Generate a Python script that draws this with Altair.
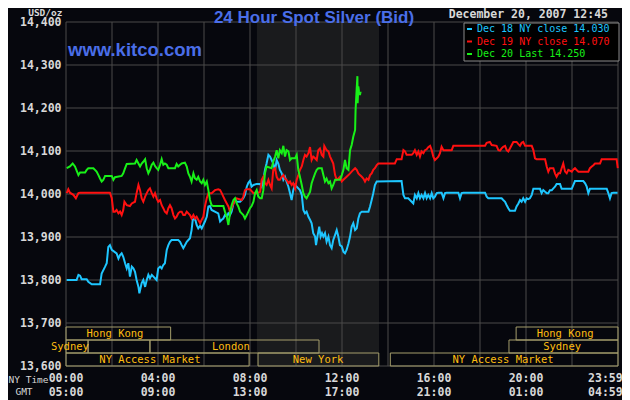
import altair as alt
import pandas as pd

# ---------------- data ----------------
# hours after 00:00 NY time, price (14,000 = $14.000)
dec18 = [(0.03,13800),(0.46,13800),(0.54,13812),(0.61,13810),(0.68,13802),(0.90,13802),(0.97,13796),(1.12,13790),(1.48,13790),(1.55,13815),(1.70,13831),(1.77,13839),(1.84,13877),(1.91,13881),(1.99,13870),(2.20,13862),(2.28,13850),(2.35,13858),(2.42,13862),(2.49,13854),(2.57,13839),(2.64,13827),(2.71,13839),(2.78,13808),(2.86,13831),(2.93,13827),(3.00,13819),(3.07,13800),(3.15,13784),(3.19,13769),(3.29,13793),(3.36,13800),(3.44,13784),(3.51,13800),(3.58,13812),(3.65,13804),(3.73,13812),(3.80,13808),(3.87,13804),(3.94,13800),(4.01,13827),(4.09,13831),(4.16,13827),(4.23,13835),(4.30,13839),(4.38,13870),(4.45,13881),(4.52,13889),(4.59,13893),(4.88,13893),(4.96,13889),(5.03,13881),(5.10,13874),(5.17,13881),(5.25,13889),(5.32,13893),(5.39,13897),(5.46,13916),(5.51,13940),(5.61,13943),(5.68,13928),(5.75,13920),(5.83,13926),(5.90,13920),(5.97,13928),(6.04,13936),(6.12,13947),(6.19,13971),(6.26,13972),(6.33,13963),(6.62,13955),(6.70,13936),(6.77,13940),(6.84,13943),(6.91,13951),(6.99,13947),(7.06,13955),(7.13,13951),(7.20,13959),(7.28,13978),(7.35,13986),(7.42,13982),(7.57,13982),(7.64,13986),(7.71,13990),(7.78,13998),(7.86,14017),(7.93,14026),(8.00,14031),(8.07,14017),(8.15,14021),(8.29,14023),(8.44,14023),
(8.51,14017),(8.58,14033),(8.65,14056),(8.72,14071),(8.80,14091),(8.87,14087),(8.94,14079),(9.01,14071),(9.09,14056),(9.16,14079),(9.23,14071),(9.30,14056),(9.38,14048),(9.45,14033),(9.52,14040),(9.59,14029),(9.67,14017),(9.74,14002),(9.81,13986),(9.88,14009),(9.96,14021),(10.03,14017),(10.10,14013),(10.17,14009),(10.25,13998),(10.32,13963),(10.39,13955),(10.46,13959),(10.54,13947),(10.61,13940),(10.68,13932),(10.75,13909),(10.83,13901),(10.87,13881),(10.93,13901),(11.01,13924),(11.07,13901),(11.13,13909),(11.19,13901),(11.26,13909),(11.33,13889),(11.41,13901),(11.48,13881),(11.55,13874),(11.62,13893),(11.70,13905),(11.77,13916),(11.84,13901),(11.91,13881),(11.99,13878),(12.06,13866),(12.13,13862),(12.20,13870),(12.28,13885),(12.35,13901),(12.42,13924),(12.49,13932),(12.57,13916),(12.64,13920),(12.71,13943),(12.78,13955),(12.86,13959),(13.15,13959),(13.22,13971),(13.29,13986),(13.36,14002),(13.43,14021),(13.51,14029),
(14.59,14030),(14.67,13998),(14.74,13990),(14.88,13990),(15.03,13982),(15.10,13978),(15.17,13998),(15.25,13990),(15.32,14002),(15.39,13990),(15.46,13998),(15.54,13990),(15.61,14002),(15.68,13990),(15.75,13998),(15.83,13990),(15.90,14002),(15.97,13990),(16.04,13994),(16.12,14002),(16.19,14003),(16.33,14003),(16.41,13990),(16.48,14002),(16.55,14003),(17.06,14003),(17.13,13990),(17.20,14002),(17.28,14003),(18.22,14003),(18.29,13994),(18.36,13990),(18.94,13990),(19.01,13986),(19.09,13982),(19.16,13974),(19.23,13967),(19.30,13961),(19.52,13961),(19.59,13971),(19.67,13978),(19.74,13986),(19.81,13982),(19.88,13990),(19.96,13982),(20.03,13990),(20.10,13988),(20.17,13990),(20.25,13998),(20.32,14012),(20.61,14012),(20.68,14002),(20.75,14009),(20.83,14005),(20.90,14002),(20.97,14002),(21.04,14009),(21.12,14009),(21.19,14013),(21.26,14017),(21.33,14023),(21.48,14023),(21.55,14012),(21.99,14012),(22.06,14021),(22.13,14030),(22.49,14030),(22.57,14025),(22.64,14017),(22.71,14002),(22.78,14012),(23.51,14012),(23.58,14002),(23.65,13990),(23.72,14002),(23.80,14003),(23.98,14003)]

dec19 = [(0.03,14002),(0.10,14011),(0.17,14003),(0.32,13998),(0.43,13990),(0.54,14002),(0.61,14003),(1.91,14003),(1.99,13990),(2.06,13959),(2.13,13959),(2.20,13963),(2.28,13955),(2.35,13959),(2.42,13951),(2.49,13963),(2.54,13982),(2.64,13974),(2.78,13972),(2.86,13978),(3.00,13982),(3.07,14002),(3.15,14021),(3.22,14009),(3.29,13990),(3.36,13982),(3.44,13994),(3.51,14002),(3.58,14009),(3.65,14013),(3.73,14002),(3.80,13994),(3.87,14002),(3.94,13990),(4.01,13982),(4.09,13986),(4.16,13974),(4.23,13967),(4.30,13959),(4.38,13955),(4.45,13967),(4.52,13974),(4.59,13967),(4.67,13951),(4.74,13943),(4.81,13947),(4.88,13955),(4.96,13959),(5.03,13959),(5.10,13951),(5.17,13951),(5.25,13959),(5.32,13955),(5.39,13951),(5.46,13943),(5.54,13951),(5.61,13943),(5.68,13947),(5.75,13940),(5.83,13932),(5.90,13940),(5.97,13947),(6.04,13971),(6.12,13990),(6.19,14002),(6.33,14002),(6.48,14009),(6.62,14011),(6.70,14009),(6.77,14002),(6.84,13994),(6.91,13986),(6.99,13978),(7.06,13971),(7.13,13959),(7.20,13967),(7.28,13978),(7.35,13986),(7.42,13990),(7.64,13986),(7.71,13994),(7.78,14009),(7.86,14011),(8.00,14011),(8.15,14002),(8.29,14002),(8.44,14005),
(8.51,14033),(8.58,14040),(8.65,14025),(8.72,14021),(8.80,14033),(8.87,14021),(8.94,14013),(9.01,14056),(9.09,14060),(9.16,14040),(9.23,14033),(9.30,14033),(9.38,14040),(9.45,14044),(9.52,14036),(9.59,14033),(9.67,14025),(9.74,14029),(9.81,14021),(9.88,14025),(9.96,14013),(10.03,14033),(10.10,14044),(10.17,14056),(10.25,14064),(10.32,14079),(10.39,14091),(10.46,14087),(10.54,14095),(10.61,14109),(10.68,14079),(10.75,14087),(10.83,14083),(10.90,14079),(10.97,14102),(11.04,14106),(11.12,14091),(11.19,14087),(11.23,14112),(11.33,14102),(11.41,14099),(11.48,14087),(11.55,14079),(11.62,14071),(11.70,14044),(11.77,14033),(11.84,14036),(11.91,14040),(11.99,14029),(12.06,14033),(12.20,14040),(12.28,14044),(12.35,14048),(12.42,14052),(12.49,14056),(12.57,14060),(12.64,14056),(12.71,14048),(12.78,14044),(12.86,14040),(12.93,14036),(13.00,14029),(13.07,14036),(13.15,14033),(13.22,14044),(13.29,14048),(13.36,14056),(13.43,14060),(13.51,14067),(13.58,14071),
(14.30,14071),(14.38,14081),(14.59,14081),(14.67,14102),(14.74,14099),(14.81,14091),(15.03,14091),(15.10,14095),(15.17,14102),(15.25,14091),(15.32,14099),(15.39,14087),(15.46,14099),(15.54,14095),(15.61,14102),(15.68,14104),(15.75,14109),(15.83,14112),(15.90,14102),(15.97,14087),(16.04,14079),(16.12,14083),(16.19,14087),(16.26,14095),(16.33,14110),(16.41,14102),(16.77,14102),(16.84,14112),(18.22,14112),(18.29,14119),(18.43,14121),(18.51,14114),(18.72,14112),(18.80,14102),(18.87,14101),(18.94,14106),(19.01,14110),(19.09,14112),(19.16,14102),(19.23,14099),(19.30,14106),(19.38,14114),(19.45,14121),(19.59,14121),(19.67,14116),(19.74,14112),(19.81,14119),(19.88,14121),(19.96,14112),(20.25,14112),(20.32,14102),(20.39,14083),(20.46,14081),(20.83,14081),(20.90,14064),(20.97,14052),(21.04,14060),(21.19,14060),(21.26,14048),(21.33,14040),(21.41,14048),(21.48,14048),(21.55,14060),(21.62,14071),(21.70,14052),(21.77,14048),(21.84,14056),(21.99,14052),(22.06,14057),(22.13,14060),(22.20,14056),(22.28,14052),(22.71,14052),(22.78,14060),(22.86,14064),(22.93,14067),(23.00,14071),(23.22,14071),(23.29,14081),(23.94,14081),(23.99,14060)]

dec20 = [(0.03,14060),(0.17,14064),(0.29,14071),(0.39,14064),(0.54,14044),(0.61,14050),(0.83,14050),(0.90,14056),(0.97,14060),(1.19,14060),(1.26,14056),(1.33,14052),(1.41,14044),(1.48,14036),(1.55,14029),(1.62,14033),(1.70,14042),(1.99,14042),(2.06,14033),(2.13,14039),(2.42,14042),(2.49,14048),(2.57,14060),(2.64,14070),(3.00,14071),(3.07,14079),(3.15,14071),(3.22,14064),(3.29,14071),(3.36,14075),(3.44,14081),(3.51,14060),(3.58,14048),(3.65,14056),(3.73,14068),(3.80,14073),(3.87,14065),(3.94,14060),(4.01,14056),(4.09,14068),(4.16,14081),(4.23,14068),(4.30,14071),(4.38,14068),(4.45,14060),(4.74,14060),(4.81,14070),(4.88,14064),(4.96,14068),(5.03,14071),(5.17,14073),(5.25,14064),(5.32,14048),(5.39,14040),(5.46,14029),(5.54,14048),(5.61,14036),(5.68,14033),(5.75,14040),(5.83,14029),(5.90,14025),(5.97,14033),(6.04,14021),(6.12,14029),(6.19,14009),(6.26,13986),(6.33,13974),(6.41,13972),(6.84,13972),(6.91,13959),(6.99,13947),(7.06,13928),(7.13,13955),(7.20,13974),(7.28,13986),(7.35,13990),(7.42,13978),(7.49,13971),(7.57,13959),(7.64,13955),(7.71,13951),(7.78,13943),(7.86,13951),(7.93,13959),(8.00,13967),(8.07,13972),(8.15,13982),(8.22,14002),(8.29,14009),(8.36,13994),(8.44,13990),
(8.51,13990),(8.58,14009),(8.65,14048),(8.72,14064),(8.94,14060),(9.01,14075),(9.09,14087),(9.16,14102),(9.23,14083),(9.30,14102),(9.38,14095),(9.45,14112),(9.52,14087),(9.59,14102),(9.67,14099),(9.74,14079),(9.81,14083),(9.96,14083),(10.03,14091),(10.10,14056),(10.17,14040),(10.25,14021),(10.32,14002),(10.39,13994),(10.46,13990),(10.54,13998),(10.61,14005),(10.68,14025),(10.75,14036),(10.83,14048),(10.90,14056),(10.97,14060),(11.12,14060),(11.19,14044),(11.26,14029),(11.33,14036),(11.41,14025),(11.48,14029),(11.55,14013),(11.62,14021),(11.70,14033),(11.91,14033),(11.99,14044),(12.06,14056),(12.13,14079),(12.20,14060),(12.28,14056),(12.35,14102),(12.42,14114),(12.49,14133),(12.57,14149),(12.59,14195),(12.64,14246),(12.67,14274),(12.68,14211),(12.71,14250),(12.74,14238),(12.78,14230),(12.81,14238)]

series_names = ["Dec 18", "Dec 19", "Dec 20"]
series_colors = ["#1ec6ff", "#ff1010", "#18f018"]
legend_texts = ["Dec 18 NY close 14.030", "Dec 19 NY close 14.070", "Dec 20 Last 14.250"]

price_ticks = [13600, 13700, 13800, 13900, 14000, 14100, 14200, 14300, 14400]
grid_hours = [0, 2, 4, 6, 8, 10, 12, 14, 16, 18, 20, 22, 24]
ny_labels = ["00:00", "04:00", "08:00", "12:00", "16:00", "20:00", "23:59"]
gmt_labels = ["05:00", "09:00", "13:00", "17:00", "21:00", "01:00", "04:59"]
label_hours = [0, 4, 8, 12, 16, 20, 23.45]

ny_session = [8.30, 13.61]

session_names = ["Hong Kong", "Sydney", "", "London", "NY Access Market", "New York", "NY Access Market", "Sydney", "Hong Kong"]
session_start = [0, 0, 0.96, 3.65, 0, 8.35, 14.1, 19.26, 19.57]
session_end = [4.55, 0.96, 3.65, 11.0, 7.96, 13.6, 24, 24, 24]
session_lane = [2, 1, 1, 1, 0, 0, 0, 1, 2]
session_label_h = [2.13, 0.17, 1.8, 7.17, 3.65, 10.96, 19.0, 21.57, 21.7]

# ---------------- styling ----------------
W, H = 552, 344
BG = "#06070d"
GRID = "#4a4a4a"
TXT = "#d8d8d8"
BLUE = "#4a6ee8"
MONO = "DejaVu Sans Mono"
SESS_STROKE = "#a59e6c"
SESS_TEXT = "#ffbe10"

x_scale = alt.Scale(domain=[0, 24], nice=False, zero=False)
y_scale = alt.Scale(domain=[13600, 14400], nice=False, zero=False)
lane_scale = alt.Scale(domain=[0, H / 13.0], nice=False, zero=False)

rows = []
for name, pts in zip(series_names, [dec18, dec19, dec20]):
    for h, v in pts:
        rows.append({"series": name, "h": h, "price": v})
lines_df = pd.DataFrame(rows)

shade = alt.Chart(pd.DataFrame({"s": [ny_session[0]], "e": [ny_session[1]]})).mark_rect(
    color="#1a1b1d").encode(
    x=alt.X("s:Q", scale=x_scale, axis=None), x2="e:Q",
    y=alt.value(0), y2=alt.value(H))

vgrid = alt.Chart(pd.DataFrame({"h": grid_hours})).mark_rule(
    color=GRID, strokeWidth=1).encode(x=alt.X("h:Q", scale=x_scale, axis=None))

hgrid = alt.Chart(pd.DataFrame({"p": price_ticks})).mark_rule(
    color=GRID, strokeWidth=1).encode(
    y=alt.Y("p:Q", scale=y_scale, axis=alt.Axis(
        values=price_ticks, format=",d", grid=False, ticks=False, tickSize=0,
        domain=False, labelFont=MONO, labelFontWeight="bold", labelFontSize=11.5,
        labelColor=TXT, labelPadding=5,
        title="USD/oz", titleAngle=0, titleAlign="right", titleBaseline="middle",
        titleX=-4, titleY=-9.5, titleFont=MONO, titleFontSize=9.5,
        titleFontWeight="bold", titleColor=TXT)))

sess_df = pd.DataFrame({"name": session_names, "s": session_start, "e": session_end,
                        "lane": session_lane, "lh": session_label_h})
sess_df["l1"] = sess_df["lane"] + 1
sess_df["lm"] = sess_df["lane"] + 0.5

sess_boxes = alt.Chart(sess_df).mark_rect(
    fillOpacity=0, stroke=SESS_STROKE, strokeWidth=1).encode(
    x=alt.X("s:Q", scale=x_scale, axis=None), x2="e:Q",
    y=alt.Y("lane:Q", scale=lane_scale, axis=None), y2="l1:Q")

sess_text = alt.Chart(sess_df).mark_text(
    font=MONO, fontSize=10.5, color=SESS_TEXT, baseline="middle", align="center").encode(
    x=alt.X("lh:Q", scale=x_scale, axis=None),
    y=alt.Y("lm:Q", scale=lane_scale, axis=None),
    text="name:N")

lines = alt.Chart(lines_df).mark_line(strokeWidth=2, interpolate="linear").encode(
    x=alt.X("h:Q", scale=x_scale, axis=None),
    y=alt.Y("price:Q", scale=y_scale, axis=None),
    color=alt.Color("series:N", scale=alt.Scale(domain=series_names, range=series_colors), legend=None),
    order=alt.Order("h:Q"))

tick_df = pd.DataFrame({"h": label_hours, "ny": ny_labels, "gmt": gmt_labels})
ny_text = alt.Chart(tick_df).mark_text(
    font=MONO, fontSize=11.5, fontWeight="bold", color=TXT, baseline="middle").encode(
    x=alt.X("h:Q", scale=x_scale, axis=None), y=alt.value(H + 13), text="ny:N")
gmt_text = alt.Chart(tick_df).mark_text(
    font=MONO, fontSize=11.5, fontWeight="bold", color=TXT, baseline="middle").encode(
    x=alt.X("h:Q", scale=x_scale, axis=None), y=alt.value(H + 27), text="gmt:N")

one = pd.DataFrame({"k": [0]})

def label(text, x, y, **kw):
    return alt.Chart(one).mark_text(text=text, **kw).encode(x=alt.value(x), y=alt.value(y))

row_names = [
    label("NY Time", -57.5, H + 14, font=MONO, fontSize=9.5, color=TXT, align="left", baseline="middle"),
    label("GMT", -42, H + 26, font=MONO, fontSize=9.5, color=TXT, align="center", baseline="middle"),
]

title_txt = label("24 Hour Spot Silver (Bid)", 248, -4.5, font="Liberation Sans", fontSize=17,
                  fontWeight="bold", color=BLUE, align="center", baseline="middle")
date_txt = label("December 20, 2007 12:45", 542, -7, font=MONO, fontSize=11.5, fontWeight="bold",
                 color=TXT, align="right", baseline="middle")
kitco_txt = label("www.kitco.com", 2, 28, font="Liberation Sans", fontSize=18.5, fontWeight="bold",
                  color=BLUE, align="left", baseline="middle")

legend_box = alt.Chart(one).mark_rect(fill="#000000", stroke="#8a8a8a", strokeWidth=1).encode(
    x=alt.value(398), x2=alt.value(553), y=alt.value(1), y2=alt.value(39))

legend_layers = []
for i, (t, c) in enumerate(zip(legend_texts, series_colors)):
    yy = 7 + i * 12.5
    legend_layers.append(alt.Chart(one).mark_rule(color=c, strokeWidth=2).encode(
        x=alt.value(401), x2=alt.value(406), y=alt.value(yy)))
    legend_layers.append(label(t, 411, yy, font=MONO, fontSize=10, color=c,
                               align="left", baseline="middle"))

chart = alt.layer(
    shade, vgrid, hgrid, sess_boxes, sess_text, lines,
    ny_text, gmt_text, *row_names, title_txt, date_txt, kitco_txt,
    legend_box, *legend_layers
).resolve_scale(y="independent").properties(
    width=W, height=H,
    padding={"left": 58, "top": 14, "right": 4, "bottom": 34},
    autosize=alt.AutoSizeParams(type="none"),
    background=BG
).configure_view(strokeWidth=0, fill=BG)

chart.save("out.html", embed_options={"renderer": "svg", "actions": False})
